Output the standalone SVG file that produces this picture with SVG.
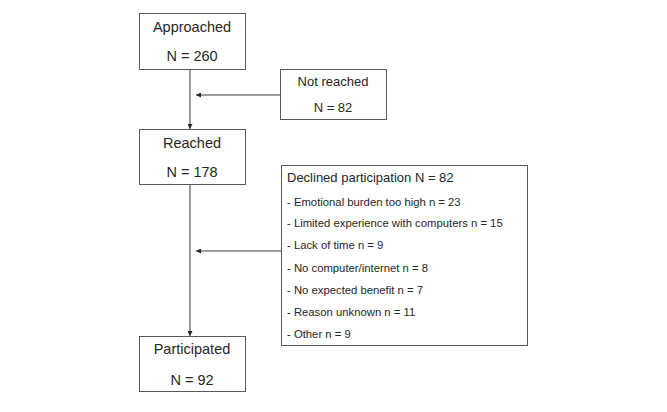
<svg xmlns="http://www.w3.org/2000/svg" width="667" height="412" viewBox="0 0 667 412">
<defs>
<style>
.box{fill:#fff;stroke:#595959;stroke-width:1}
.t{font-family:"Liberation Sans",Arial,sans-serif;fill:#262626}
.m{font-size:14.5px;text-anchor:middle}
.s{font-size:13px;text-anchor:middle}
.h{font-size:13px}
.i{font-size:11.3px}
.c{stroke:#3a3a3a;stroke-width:1;fill:none}
</style>
<marker id="ah" viewBox="0 0 10 10" refX="10" refY="5" markerWidth="5" markerHeight="5" orient="auto">
<path d="M0,0 L10,5 L0,10 z" fill="#262626"/>
</marker>
</defs>
<rect width="667" height="412" fill="#fff"/>
<g id="connectors">
<line class="c" x1="190" y1="69" x2="190" y2="129" marker-end="url(#ah)"/>
<line class="c" x1="190" y1="184" x2="190" y2="336" marker-end="url(#ah)"/>
<line class="c" x1="280" y1="95" x2="196" y2="95" marker-end="url(#ah)"/>
<line class="c" x1="281" y1="251" x2="196" y2="251" marker-end="url(#ah)"/>
</g>
<g id="approached">
<rect class="box" x="139.5" y="13.5" width="106" height="56"/>
<text class="t m" x="192" y="32">Approached</text>
<text class="t m" x="192" y="61">N = 260</text>
</g>
<g id="not-reached">
<rect class="box" x="280.5" y="69.5" width="106" height="50"/>
<text class="t s" x="333" y="86">Not reached</text>
<text class="t s" x="333" y="112">N = 82</text>
</g>
<g id="reached">
<rect class="box" x="139.5" y="129.5" width="106" height="55"/>
<text class="t m" x="192" y="148">Reached</text>
<text class="t m" x="192" y="177">N = 178</text>
</g>
<g id="declined">
<rect class="box" x="281.5" y="165.5" width="246" height="180"/>
<text class="t h" x="287" y="182">Declined participation N = 82</text>
<text class="t i" x="287" y="206">- Emotional burden too high n = 23</text>
<text class="t i" x="287" y="227">- Limited experience with computers n = 15</text>
<text class="t i" x="287" y="249">- Lack of time n = 9</text>
<text class="t i" x="287" y="272">- No computer/internet n = 8</text>
<text class="t i" x="287" y="294">- No expected benefit n = 7</text>
<text class="t i" x="287" y="316">- Reason unknown n = 11</text>
<text class="t i" x="287" y="338">- Other n = 9</text>
</g>
<g id="participated">
<rect class="box" x="139.5" y="336.5" width="106" height="55"/>
<text class="t m" x="192" y="354">Participated</text>
<text class="t m" x="192" y="385">N = 92</text>
</g>
</svg>
